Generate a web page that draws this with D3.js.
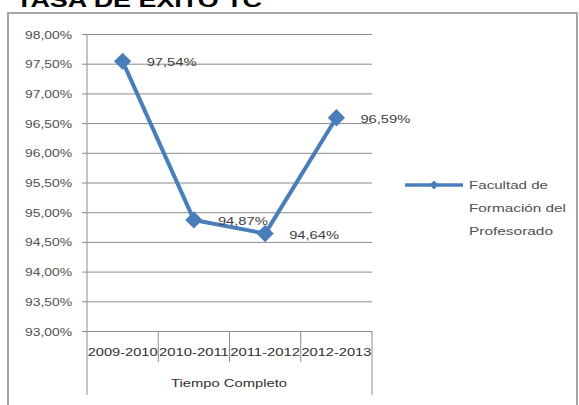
<!DOCTYPE html>
<html><head><meta charset="utf-8">
<script src="https://cdn.jsdelivr.net/npm/d3@7"></script>
<style>body{margin:0;background:#fff}svg{display:block}text{font-family:"Liberation Sans",Arial,sans-serif}</style>
</head><body>
<svg id="c" width="579" height="405"></svg>
<script>
const title = "TASA DE EXITO TC";
const categories = ["2009-2010","2010-2011","2011-2012","2012-2013"];
const groupLabel = "Tiempo Completo";
const seriesName = ["Facultad de","Formación del","Profesorado"];
const values = [97.54, 94.87, 94.64, 96.59];
const yTicks = [93,93.5,94,94.5,95,95.5,96,96.5,97,97.5,98];

const svg = d3.select("#c");
const blue = "#4A7EBB", grid = "#8c8c8c", txt = "#505050";
const fmt = v => d3.format(".2f")(v).replace(".", ",") + "%";

// title (clipped at top)
svg.append("text").attr("x",16).attr("y",7).attr("font-size",20).attr("font-weight","bold")
  .attr("fill","#000").attr("textLength",246).attr("lengthAdjust","spacingAndGlyphs").text(title);
// chart border
svg.append("rect").attr("x",8).attr("y",13).attr("width",569).attr("height",410)
  .attr("fill","none").attr("stroke","#a6a6a6").attr("stroke-width",2);

const x = d3.scaleBand().domain(categories).range([87,372]);
const y = d3.scaleLinear().domain([93,98]).range([331,34]);

// gridlines + ticks
const yAxis = d3.axisLeft(y).tickValues(yTicks).tickSize(-(372-87)).tickSizeOuter(0).tickFormat(fmt).tickPadding(0);
const gy = svg.append("g").attr("transform","translate(87,0)").call(yAxis);
gy.select(".domain").remove();
gy.selectAll(".tick line").attr("stroke",grid).attr("x1",-5);
gy.selectAll(".tick text").attr("x",-15).attr("fill",txt).attr("font-size",11.5)
  .attr("textLength",47).attr("lengthAdjust","spacingAndGlyphs").attr("dy","0.35em");

// axis lines
svg.append("line").attr("x1",87).attr("x2",87).attr("y1",34).attr("y2",395).attr("stroke",grid);
svg.append("line").attr("x1",372).attr("x2",372).attr("y1",331).attr("y2",395).attr("stroke",grid);
// inner category separators
categories.slice(1).forEach(c=>{
  svg.append("line").attr("x1",x(c)).attr("x2",x(c)).attr("y1",331).attr("y2",362).attr("stroke",grid);
});
// category labels
svg.selectAll(".cl").data(categories).join("text").attr("class","cl")
  .attr("x",d=>x(d)+x.bandwidth()/2).attr("y",356).attr("text-anchor","middle")
  .attr("font-size",11.5).attr("fill","#303030").attr("textLength",70).attr("lengthAdjust","spacingAndGlyphs").text(d=>d);
svg.append("text").attr("x",229).attr("y",387).attr("text-anchor","middle").attr("font-size",11.5)
  .attr("fill","#303030").attr("textLength",116).attr("lengthAdjust","spacingAndGlyphs").text(groupLabel);

// line
const cx = d => x(d) + x.bandwidth()/2;
const pts = categories.map((c,i)=>[cx(c), y(values[i])]);
svg.append("path").attr("d",d3.line()(pts)).attr("fill","none").attr("stroke",blue).attr("stroke-width",4).attr("stroke-linejoin","round");
const diamond = d3.symbol().type(d3.symbolDiamond2).size(190);
svg.selectAll(".mk").data(pts).join("path").attr("class","mk")
  .attr("transform",d=>`translate(${d[0]},${d[1]})`).attr("d",diamond).attr("fill",blue);
// data labels
svg.selectAll(".dl").data(values).join("text").attr("class","dl")
  .attr("x",(d,i)=>pts[i][0]+24).attr("y",(d,i)=>pts[i][1]+5)
  .attr("font-size",11.5).attr("fill","#404040").attr("textLength",50).attr("lengthAdjust","spacingAndGlyphs").text(fmt);

// legend
svg.append("line").attr("x1",405).attr("x2",463).attr("y1",185).attr("y2",185).attr("stroke",blue).attr("stroke-width",3.5);
svg.append("path").attr("transform","translate(434,185)").attr("d",d3.symbol().type(d3.symbolDiamond2).size(50)).attr("fill",blue);
const lw = [79,97,84];
svg.selectAll(".lg").data(seriesName).join("text").attr("class","lg")
  .attr("x",469).attr("y",(d,i)=>189+i*23).attr("font-size",11.5).attr("fill",txt)
  .attr("textLength",(d,i)=>lw[i]).attr("lengthAdjust","spacingAndGlyphs").text(d=>d);
</script>
</body></html>
